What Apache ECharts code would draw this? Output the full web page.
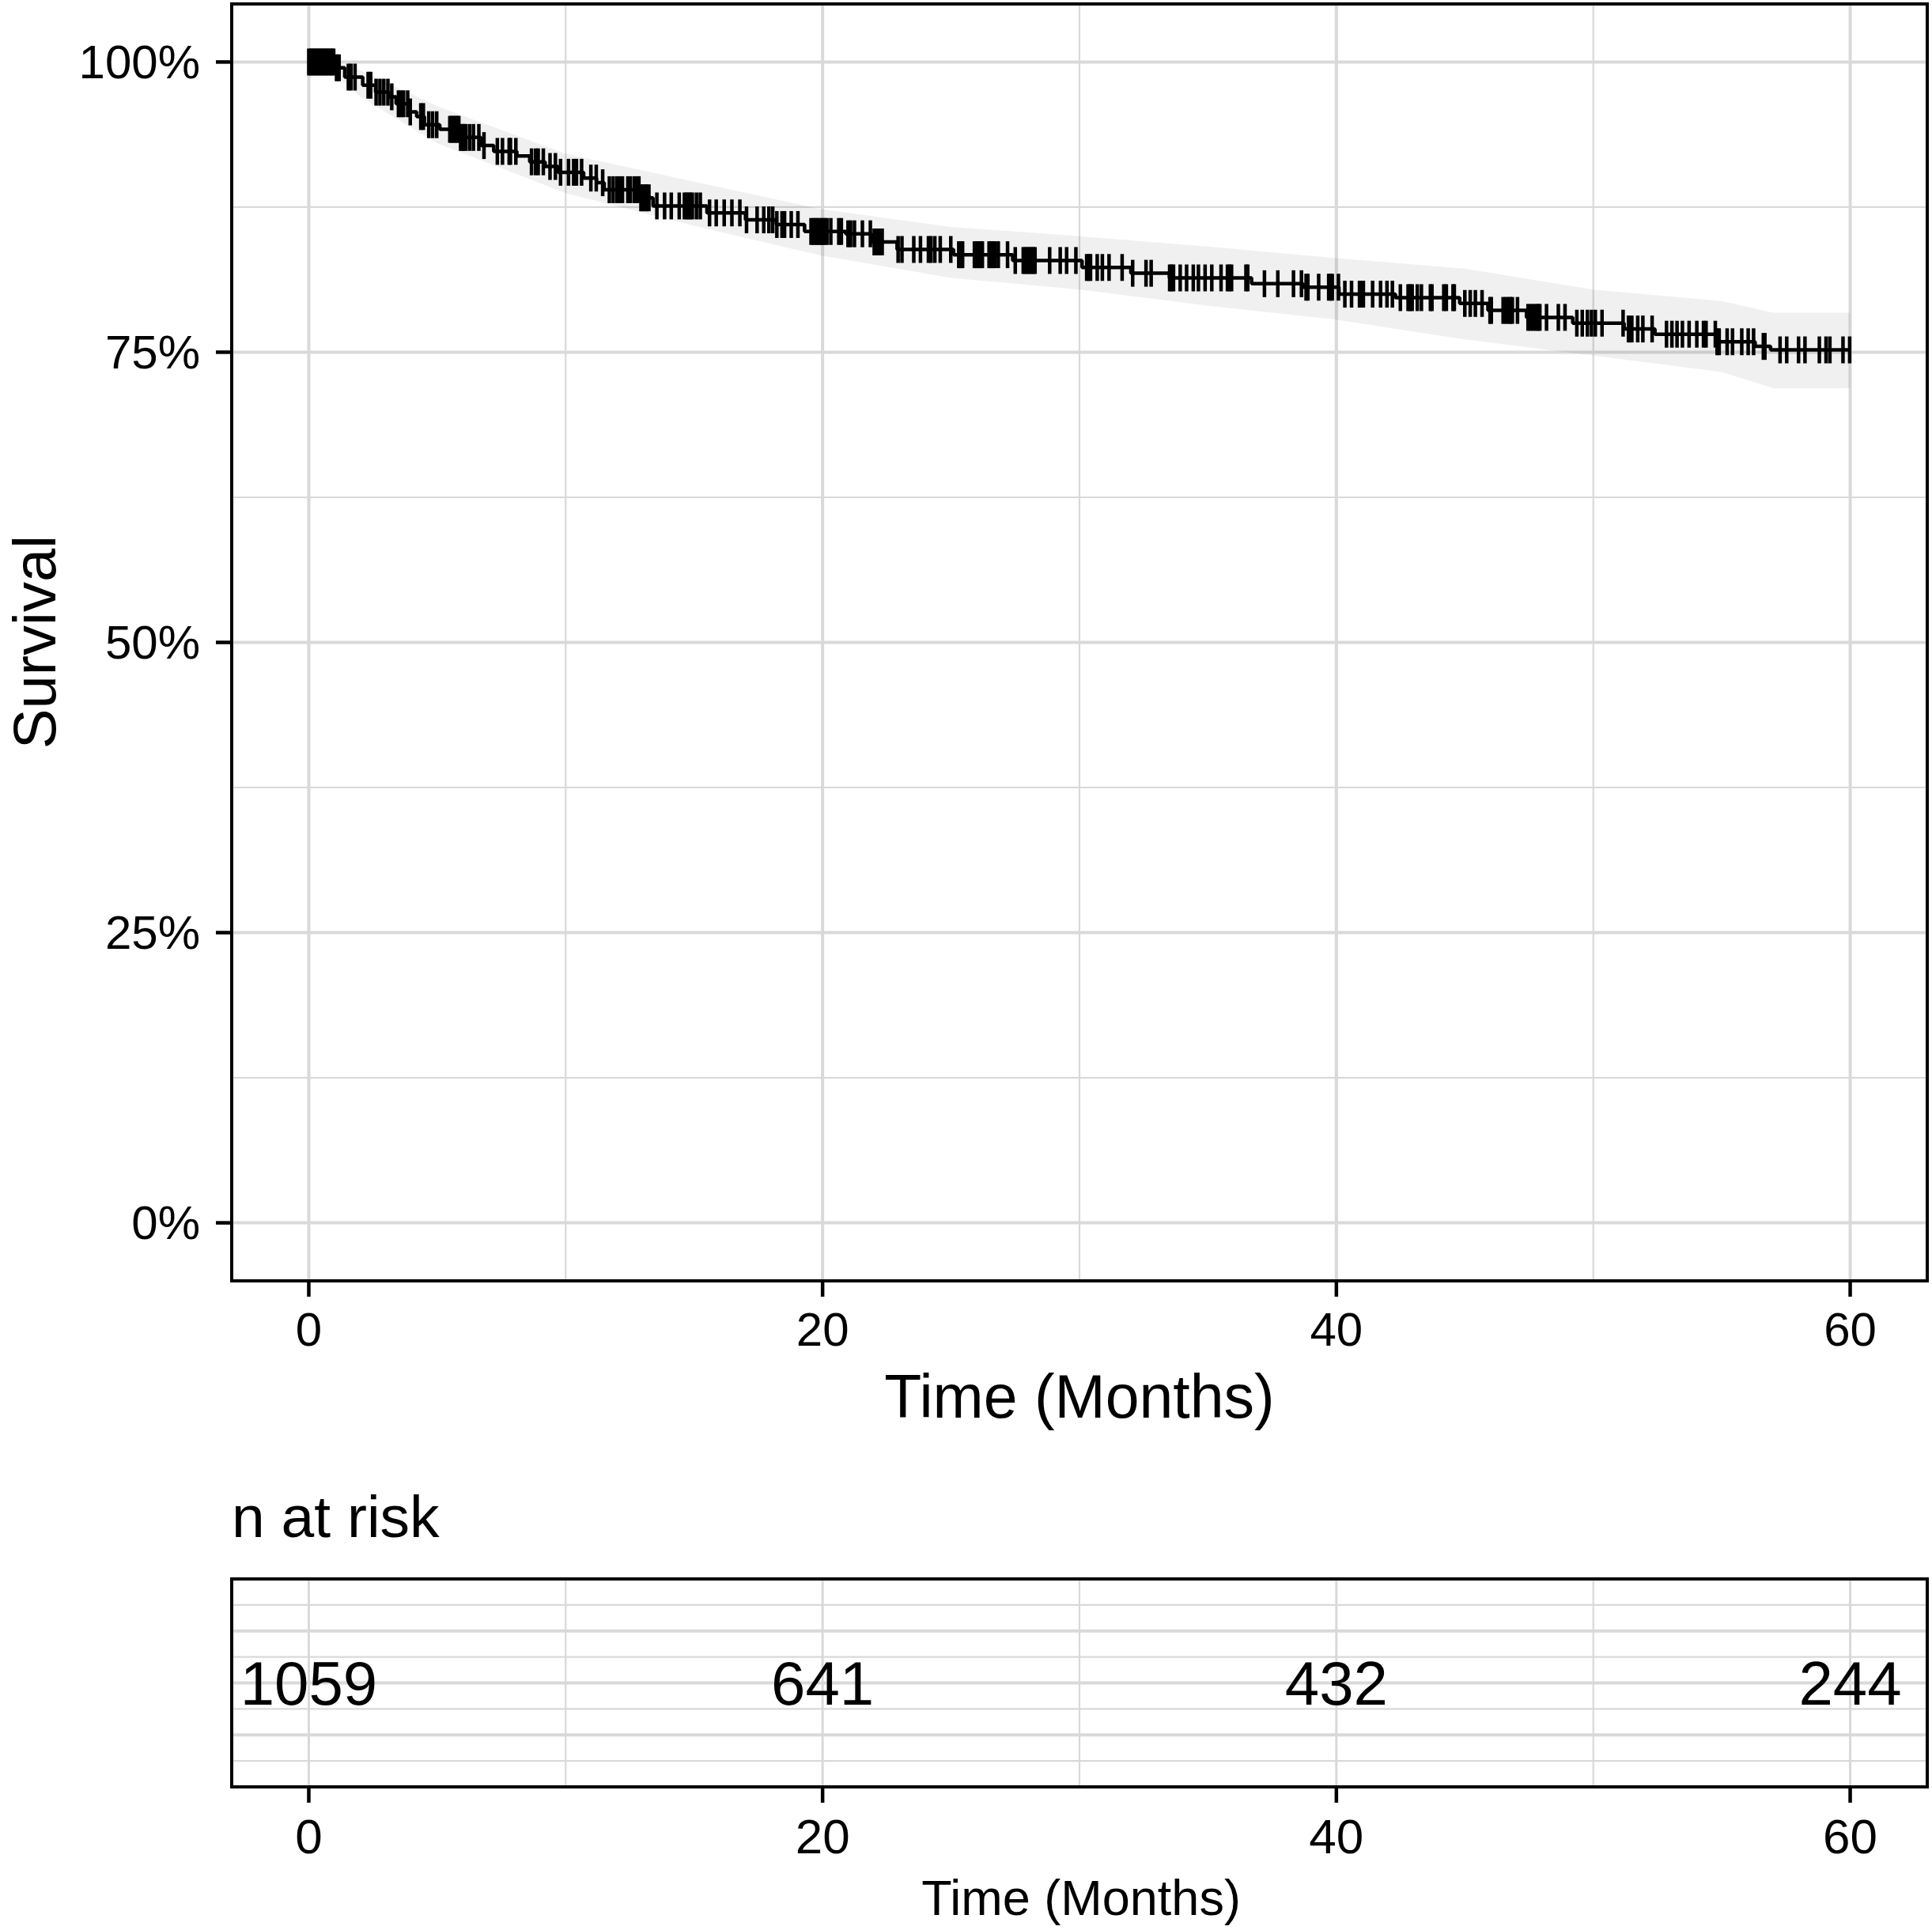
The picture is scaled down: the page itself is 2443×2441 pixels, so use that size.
<!DOCTYPE html>
<html><head><meta charset="utf-8">
<script src="https://cdn.jsdelivr.net/npm/echarts@6/dist/echarts.min.js"></script>
<style>html,body{margin:0;padding:0;background:#fff}#c{width:2443px;height:2441px}</style>
</head><body><div id="c"></div>
<script>
// Kaplan-Meier step curve (time in months, survival in %)
const kmTime = [0, 1.0, 1.4, 2.1, 2.6, 3.1, 3.4, 3.9, 4.2, 4.5, 5.1, 5.9, 6.7, 7.2, 8.1, 8.6, 9.2, 9.7, 10.7, 11.2, 11.5, 12.9, 13.4, 15.5, 17.0, 18.2, 19.3, 20.9, 21.9, 22.9, 25.1, 27.4, 30.1, 32.0, 33.5, 36.7, 38.7, 40.1, 42.3, 44.8, 45.9, 47.4, 49.2, 51.2, 52.4, 54.8, 56.3, 56.9, 60.0];
const kmSurv = [100, 99.5, 98.7, 98.0, 97.4, 97.0, 96.4, 95.7, 95.3, 94.6, 94.2, 93.5, 92.8, 92.3, 91.9, 91.4, 91.0, 90.5, 90.0, 89.6, 89.0, 88.3, 87.6, 87.0, 86.4, 86.0, 85.4, 85.2, 84.5, 83.85, 83.4, 82.9, 82.3, 81.8, 81.4, 80.9, 80.6, 80.0, 79.7, 79.2, 78.6, 78.0, 77.5, 77.0, 76.55, 75.9, 75.5, 75.2, 75.2];

// censoring times (months)
const censorTime = [
  0.0, 0.07, 0.14, 0.21, 0.28, 0.35, 0.42, 0.49, 0.56, 0.63, 0.7, 0.77, 0.84, 0.91, 0.97,
  1.08, 1.18, 1.54, 1.64, 1.8, 2.31, 2.41, 2.62, 2.77, 2.92, 3.08, 3.23, 3.49, 3.59, 3.69, 3.85, 3.95,
  4.36, 4.46, 4.67, 4.82, 4.98, 5.49, 5.56, 5.63, 5.7, 5.77, 5.84, 5.91, 5.98, 6.05, 6.11, 6.26, 6.41,
  6.62, 6.82, 7.34, 7.54, 7.8, 7.85, 8.06, 8.67, 8.83, 8.93, 9.13, 9.39, 9.6, 9.8, 10.11,
  10.31, 10.42, 10.62, 10.98, 11.19, 11.44, 11.7, 11.85, 12.0, 12.11, 12.21, 12.42, 12.52, 12.67, 12.78,
  12.85, 12.93, 13.0, 13.09, 13.16, 13.24, 13.55, 13.85, 14.11, 14.42, 14.62, 14.7, 14.78, 14.85, 14.93,
  15.09, 15.24, 15.6, 15.86, 16.17, 16.47, 16.78, 17.04, 17.45, 17.71, 17.91, 18.06, 18.22, 18.42, 18.52,
  18.78, 19.04, 19.55, 19.63, 19.71, 19.78, 19.86, 19.94, 20.01, 20.09, 20.17,
  20.32, 20.63, 20.73, 20.99, 21.09, 21.24, 21.55, 21.86, 22.01, 22.09, 22.17, 22.25, 22.32, 22.94, 23.09,
  23.55, 23.81, 24.12, 24.22, 24.37, 24.58, 24.99, 25.3, 25.38, 25.45, 25.91, 25.99, 26.07, 26.15, 26.22,
  26.48, 26.56, 26.63, 26.71, 26.84, 27.2, 27.5, 27.81, 27.89, 27.97, 28.05, 28.12, 28.2, 28.27, 28.84,
  29.25, 29.5, 29.86,
  30.28, 30.36, 30.43, 30.69, 30.89, 31.15, 31.66, 32.07, 32.59, 32.79, 33.51, 33.58, 33.66, 33.92, 34.17,
  34.43, 34.63, 34.89, 35.15, 35.51, 35.76, 35.84, 35.92, 36.48, 36.55, 37.2, 37.72, 38.33, 38.64, 38.82,
  38.89, 39.31, 39.7, 39.77, 39.84, 40.08,
  40.33, 40.59, 40.9, 40.97, 41.05, 41.41, 41.72, 41.97, 42.18, 42.49, 42.79, 42.87, 42.95, 43.15, 43.31,
  43.66, 43.72, 44.18, 44.28, 44.54, 44.59, 45.0, 45.21, 45.41, 45.67, 45.98, 46.03, 46.49, 46.59, 46.69,
  46.77, 46.85, 47.05, 47.46, 47.56, 47.67, 47.77, 47.85, 47.92, 48.18, 48.64, 48.9, 49.36, 49.57, 49.77, 49.93,
  50.08, 50.34, 51.16, 51.37, 51.42, 51.5, 51.73, 51.93, 52.29, 52.85, 53.06, 53.26, 53.47, 53.73, 54.03,
  54.29, 54.39, 54.75, 54.82, 54.9, 55.21, 55.42, 55.78, 56.03, 56.24, 56.62, 56.68, 57.27, 57.53, 57.99,
  58.24, 58.8, 59.06, 59.21, 59.72, 59.98
];

// confidence band
const ciTime  = [0,   1,    2,    5,    10,   15,   20,   25,   30,   35,   40,   45,   50,   55,   57,   60];
const ciUpper = [100, 100,  99.3, 96.2, 92.1, 89.7, 87.3, 85.8, 85.0, 84.1, 83.1, 82.2, 80.4, 79.4, 78.4, 78.4];
const ciLower = [100, 99.0, 97.0, 93.0, 88.7, 85.9, 83.3, 81.4, 80.4, 79.0, 77.8, 76.1, 74.7, 73.3, 71.9, 71.9];

const xTicks = [0, 20, 40, 60];
const xMinor = [10, 30, 50];
const yTicks = [0, 25, 50, 75, 100];
const yMinor = [12.5, 37.5, 62.5, 87.5];

const riskTime = [0, 20, 40, 60];
const riskCount = [1059, 641, 432, 244];
const riskRowMajor = [2, 4, 6];
const riskRowMinor = [1, 3, 5, 7];
const riskRow = 4;

const FONT = '"Liberation Sans", Arial, Helvetica, sans-serif';
const GRID_COLOR = '#d9d9d9';
const X_MIN = -3, X_MAX = 63, Y_MIN = -5, Y_MAX = 105, R_MIN = 0, R_MAX = 8;

function survAt(t) {
  let s = kmSurv[0];
  for (let i = 0; i < kmTime.length; i++) { if (kmTime[i] <= t) s = kmSurv[i]; }
  return s;
}

function gridLineSeries(gi, values, dir, width, yMin, yMax) {
  return {
    type: 'custom', xAxisIndex: gi, yAxisIndex: gi, z: 1, silent: true,
    data: values.map(v => [v, v]),
    renderItem: function (params, api) {
      const v = api.value(0);
      let p1, p2;
      if (dir === 'v') { p1 = api.coord([v, yMin]); p2 = api.coord([v, yMax]); }
      else { p1 = api.coord([X_MIN, v]); p2 = api.coord([X_MAX, v]); }
      return { type: 'line', shape: { x1: p1[0], y1: p1[1], x2: p2[0], y2: p2[1] },
               style: { stroke: GRID_COLOR, lineWidth: width } };
    }
  };
}

// outward axis tick marks at the panel border
function tickSeries(gi, values, dir, yLow) {
  return {
    type: 'custom', xAxisIndex: gi, yAxisIndex: gi, z: 50, silent: true, clip: false,
    data: values.map(v => [v, v]),
    renderItem: function (params, api) {
      const v = api.value(0);
      let shape;
      if (dir === 'x') { const p = api.coord([v, yLow]); shape = { x1: p[0], y1: p[1], x2: p[0], y2: p[1] + 20 }; }
      else { const p = api.coord([X_MIN, v]); shape = { x1: p[0] - 20, y1: p[1], x2: p[0], y2: p[1] }; }
      return { type: 'line', shape: shape, style: { stroke: '#000', lineWidth: 4.5 } };
    }
  };
}

const chart = echarts.init(document.getElementById('c'), null, { renderer: 'svg' });

const hiddenLine = { show: false, onZero: false };

const option = {
  backgroundColor: '#fff',
  animation: false,
  grid: [
    { left: 293, top: 5, width: 2144, height: 1615 },
    { left: 293, top: 1997, width: 2144, height: 263 }
  ],
  xAxis: [
    { gridIndex: 0, type: 'value', min: X_MIN, max: X_MAX, position: 'bottom',
      axisLine: hiddenLine, splitLine: { show: false }, axisTick: { show: false },
      axisLabel: { customValues: xTicks, margin: 31, fontSize: 60, color: '#000', fontFamily: FONT } },
    { gridIndex: 1, type: 'value', min: X_MIN, max: X_MAX, position: 'bottom',
      axisLine: hiddenLine, splitLine: { show: false }, axisTick: { show: false },
      axisLabel: { customValues: xTicks, margin: 31, fontSize: 62, color: '#000', fontFamily: FONT } }
  ],
  yAxis: [
    { gridIndex: 0, type: 'value', min: Y_MIN, max: Y_MAX, position: 'left',
      axisLine: hiddenLine, splitLine: { show: false }, axisTick: { show: false },
      axisLabel: { customValues: yTicks, margin: 40, fontSize: 60, color: '#000', fontFamily: FONT,
                   formatter: v => v + '%' } },
    { gridIndex: 1, type: 'value', min: R_MIN, max: R_MAX, position: 'left',
      axisLine: hiddenLine, splitLine: { show: false },
      axisTick: { show: false }, axisLabel: { show: false } }
  ],
  graphic: [
    { type: 'rect', z: 100, shape: { x: 293, y: 5, width: 2144, height: 1615 },
      style: { fill: 'none', stroke: '#000', lineWidth: 4 } },
    { type: 'rect', z: 100, shape: { x: 293, y: 1997, width: 2144, height: 263 },
      style: { fill: 'none', stroke: '#000', lineWidth: 4 } },
    { type: 'text', z: 100, x: 43, y: 812, rotation: Math.PI / 2,
      style: { text: 'Survival', font: '76px ' + FONT, fill: '#000', align: 'center', verticalAlign: 'middle' } },
    { type: 'text', z: 100, x: 1365, y: 1766,
      style: { text: 'Time (Months)', font: '77px ' + FONT, fill: '#000', align: 'center', verticalAlign: 'middle' } },
    { type: 'text', z: 100, x: 293, y: 1918,
      style: { text: 'n at risk', font: '75px ' + FONT, fill: '#000', align: 'left', verticalAlign: 'middle' } },
    { type: 'text', z: 100, x: 1367, y: 2400,
      style: { text: 'Time (Months)', font: '63px ' + FONT, fill: '#000', align: 'center', verticalAlign: 'middle' } }
  ],
  series: [
    gridLineSeries(0, xTicks, 'v', 4, Y_MIN, Y_MAX),
    gridLineSeries(0, xMinor, 'v', 2.2, Y_MIN, Y_MAX),
    gridLineSeries(0, yTicks, 'h', 4, 0, 0),
    gridLineSeries(0, yMinor, 'h', 2.2, 0, 0),
    gridLineSeries(1, xTicks, 'v', 3, R_MIN, R_MAX),
    gridLineSeries(1, xMinor, 'v', 2.2, R_MIN, R_MAX),
    gridLineSeries(1, riskRowMajor, 'h', 4, 0, 0),
    gridLineSeries(1, riskRowMinor, 'h', 2.2, 0, 0),
    tickSeries(0, xTicks, 'x', Y_MIN),
    tickSeries(0, yTicks, 'y', 0),
    tickSeries(1, xTicks, 'x', R_MIN),
    {
      type: 'custom', xAxisIndex: 0, yAxisIndex: 0, z: 2, silent: true,
      data: [[ciTime[0], ciUpper[0]]],
      renderItem: function (params, api) {
        const pts = [];
        for (let i = 0; i < ciTime.length; i++) pts.push(api.coord([ciTime[i], ciUpper[i]]));
        for (let i = ciTime.length - 1; i >= 0; i--) pts.push(api.coord([ciTime[i], ciLower[i]]));
        return { type: 'polygon', shape: { points: pts }, style: { fill: 'rgba(0,0,0,0.06)' } };
      }
    },
    {
      type: 'line', xAxisIndex: 0, yAxisIndex: 0, z: 3, step: 'end', showSymbol: false,
      data: kmTime.map((t, i) => [t, kmSurv[i]]),
      lineStyle: { color: '#000', width: 4.5 }
    },
    {
      type: 'scatter', xAxisIndex: 0, yAxisIndex: 0, z: 4,
      symbol: 'rect', symbolSize: [4.5, 34],
      data: censorTime.map(t => [t, survAt(t)]),
      itemStyle: { color: '#000', opacity: 1 }
    },
    {
      type: 'scatter', xAxisIndex: 1, yAxisIndex: 1, z: 4, symbolSize: 1,
      itemStyle: { color: 'rgba(0,0,0,0)', opacity: 1 },
      data: riskTime.map((t, i) => [t, riskRow, riskCount[i]]),
      label: { show: true, position: 'inside', formatter: p => String(p.value[2]), opacity: 1,
               fontSize: 78, color: '#000', fontFamily: FONT }
    }
  ]
};
chart.setOption(option);
</script>
</body></html>
